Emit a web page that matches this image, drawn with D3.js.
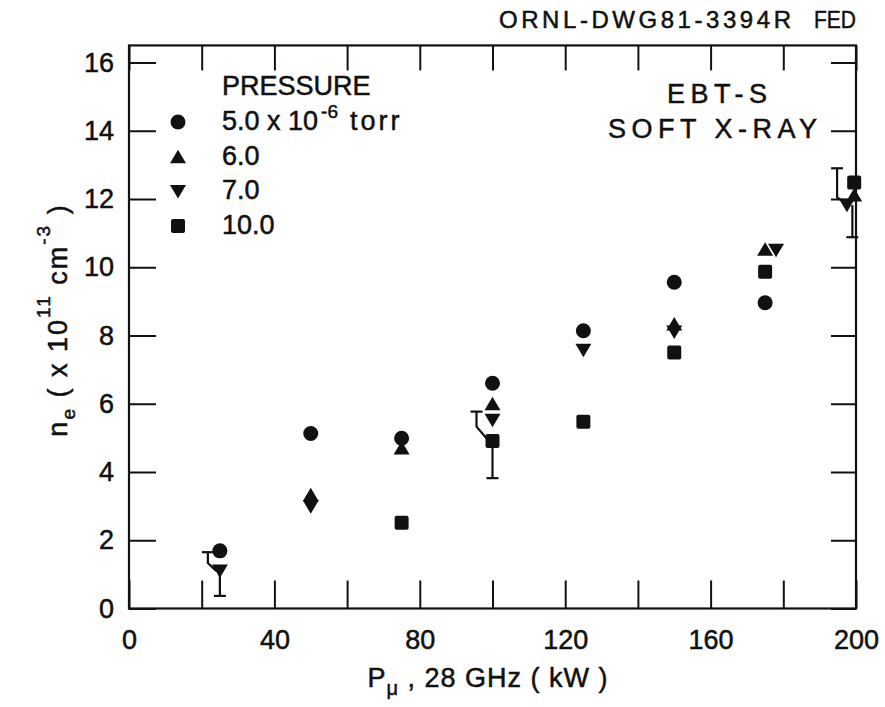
<!DOCTYPE html>
<html>
<head>
<meta charset="utf-8">
<script src="https://cdn.jsdelivr.net/npm/d3@7"></script>
<style>
  body { margin: 0; background: #fff; }
  text { font-family: "Liberation Sans", Arial, sans-serif; fill: #111; stroke: #111; stroke-width: 0.5px; }
</style>
</head>
<body>
<div id="chart"></div>
<script>
let w = 885;
let h = 707;

// series (P in kW, n_e in 1e11 cm^-3)
const pCircle = [25, 50, 75, 100, 125, 150, 175];
const nCircle = [1.69, 5.13, 4.99, 6.6, 8.14, 9.56, 8.96];
const pUp = [50, 75, 100, 150, 175, 199.5];
const nUp = [3.33, 4.7, 6.0, 8.34, 10.53, 12.12];
const pDown = [25, 50, 100, 125, 150, 178, 197.5];
const nDown = [1.1, 2.98, 5.52, 7.57, 8.1, 10.5, 11.82];
const pSquare = [75, 100, 125, 150, 175, 199.5];
const nSquare = [2.51, 4.91, 5.47, 7.5, 9.87, 12.48];

// error bars: lower bar at errP, upper bar shifted to errHiP, joined at errBend
const errP = [25, 100, 199];
const errY = [1.1, 4.91, 11.82];
const errLo = [0.37, 3.82, 10.88];
const errHi = [1.65, 5.77, 12.9];
const errHiP = [21.7, 95.6, 194.8];
const errBend = [1.33, 5.33, 12.05];

const legendLabels = ["5.0 x 10", "6.0", "7.0", "10.0"];
const xTicks = [0, 20, 40, 60, 80, 100, 120, 140, 160, 180, 200];
const xTickLabels = ["0", "", "40", "", "80", "", "120", "", "160", "", "200"];
const yTicks = [0, 2, 4, 6, 8, 10, 12, 14, 16];

let svg = d3.select("#chart").append("svg")
    .attr("width", w)
    .attr("height", h)
    .style("background-color", "white");

let x = d3.scaleLinear().domain([0, 200]).range([129, 856]);
let y = d3.scaleLinear().domain([0, 16.5]).range([608.5, 608.5 - 16.5 * 34.125]);

// frame
svg.append("rect")
    .attr("x", x(0)).attr("y", y(16.5))
    .attr("width", x(200) - x(0)).attr("height", y(0) - y(16.5))
    .attr("fill", "none").attr("stroke", "#111").attr("stroke-width", 2.2);

// axes, ticks pointing inward
let fontSize = 27;
let gx = svg.append("g").attr("transform", "translate(0," + y(0) + ")")
    .call(d3.axisBottom(x).tickValues(xTicks).tickSizeInner(-28).tickSizeOuter(0)
        .tickPadding(21).tickFormat((d, i) => xTickLabels[i]));
let gy = svg.append("g").attr("transform", "translate(" + x(0) + ",0)")
    .call(d3.axisLeft(y).tickValues(yTicks).tickSizeInner(-27).tickSizeOuter(0)
        .tickPadding(15).tickFormat(d3.format("d")));
let gt = svg.append("g").attr("transform", "translate(0," + y(16.5) + ")")
    .call(d3.axisTop(x).tickValues(xTicks).tickSizeInner(-25).tickSizeOuter(0).tickFormat(""));
let gr = svg.append("g").attr("transform", "translate(" + x(200) + ",0)")
    .call(d3.axisRight(y).tickValues(yTicks).tickSizeInner(-25).tickSizeOuter(0).tickFormat(""));

[gx, gy, gt, gr].forEach(function(g){
    g.select(".domain").remove();
    g.selectAll(".tick line").attr("stroke", "#111").attr("stroke-width", 2);
    g.selectAll(".tick text")
        .attr("font-family", "Liberation Sans, Arial, sans-serif")
        .attr("font-size", fontSize)
        .attr("fill", "#111");
});

// error bars
let eb = svg.append("g").attr("stroke", "#111").attr("stroke-width", 2.2).attr("fill", "none");
for (let i = 0; i < errP.length; i++) {
    // lower part
    eb.append("line")
        .attr("x1", x(errP[i])).attr("x2", x(errP[i]))
        .attr("y1", y(errY[i])).attr("y2", y(errLo[i]));
    eb.append("line")
        .attr("x1", x(errP[i]) - 6).attr("x2", x(errP[i]) + 6)
        .attr("y1", y(errLo[i])).attr("y2", y(errLo[i]));
    // upper part, offset to the left
    eb.append("path")
        .attr("d", "M" + x(errP[i] - 1) + "," + y(errY[i]) +
            "L" + x(errHiP[i]) + "," + y(errBend[i]) +
            "L" + x(errHiP[i]) + "," + y(errHi[i]));
    eb.append("line")
        .attr("x1", x(errHiP[i]) - 6).attr("x2", x(errHiP[i]) + 6)
        .attr("y1", y(errHi[i])).attr("y2", y(errHi[i]));
}

// marker shapes
function marker(sel, kind) {
    if (kind == "circle") {
        sel.append("circle").attr("r", 7.5);
    } else if (kind == "up") {
        sel.append("path").attr("d", "M-8,6.5L8,6.5L0,-7Z");
    } else if (kind == "down") {
        sel.append("path").attr("d", "M-8,-6.5L8,-6.5L0,7Z");
    } else {
        sel.append("rect").attr("x", -7).attr("y", -7).attr("width", 14).attr("height", 14).attr("rx", 2);
    }
}

let series = [
    {kind: "circle", p: pCircle, n: nCircle},
    {kind: "up", p: pUp, n: nUp},
    {kind: "down", p: pDown, n: nDown},
    {kind: "square", p: pSquare, n: nSquare}
];

series.forEach(function(s){
    svg.append("g").attr("fill", "#111")
        .selectAll("g").data(s.p).join("g")
        .attr("transform", (d, i) => "translate(" + x(d) + "," + y(s.n[i]) + ")")
        .each(function(){ marker(d3.select(this), s.kind); });
});

// legend
let legend = svg.append("g").attr("font-size", fontSize);
legend.append("text").attr("x", 222).attr("y", 95).text("PRESSURE");
let rows = legend.selectAll(".row").data(series).join("g")
    .attr("class", "row")
    .attr("transform", (d, i) => "translate(178," + (130 + i * 34.7) + ")");
rows.each(function(d){
    let g = d3.select(this).append("g").attr("fill", "#111").attr("transform", "translate(0,-8)");
    marker(g, d.kind);
});
rows.append("text").attr("x", 44).attr("y", 0)
    .each(function(d, i){
        let t = d3.select(this);
        t.append("tspan").text(legendLabels[i]);
        if (i == 0) {
            t.append("tspan").attr("dx", 3).attr("dy", -12).attr("font-size", 19).text("-6");
            t.append("tspan").attr("dx", 12).attr("dy", 12).attr("letter-spacing", 3).text("torr");
        }
    });

// annotation
svg.append("text").attr("x", 667).attr("y", 103).attr("font-size", fontSize)
    .attr("letter-spacing", 5.5).text("EBT-S");
svg.append("text").attr("x", 608).attr("y", 138).attr("font-size", fontSize)
    .attr("letter-spacing", 5.5).text("SOFT X-RAY");

// drawing number
svg.append("text").attr("x", 499).attr("y", 28).attr("font-size", 24)
    .attr("textLength", 292).attr("lengthAdjust", "spacing").text("ORNL-DWG81-3394R");
svg.append("text").attr("x", 814).attr("y", 28).attr("font-size", 24)
    .attr("textLength", 42).attr("lengthAdjust", "spacingAndGlyphs").text("FED");

// x label
let xl = svg.append("text").attr("x", 488).attr("y", 687).attr("font-size", fontSize)
    .attr("text-anchor", "middle").attr("letter-spacing", 1);
xl.append("tspan").text("P");
xl.append("tspan").attr("dy", 8).attr("font-size", 20).text("\u03bc");
xl.append("tspan").attr("dy", -8).text(" , 28 GHz ( kW )");

// y label
let yl = svg.append("text")
    .attr("transform", "translate(67,320) rotate(-90)")
    .attr("font-size", fontSize).attr("text-anchor", "middle").attr("letter-spacing", 2);
yl.append("tspan").text("n");
yl.append("tspan").attr("dy", 8).attr("font-size", 19).text("e");
yl.append("tspan").attr("dy", -8).text(" ( x 10");
yl.append("tspan").attr("dy", -17).attr("font-size", 19).text("11");
yl.append("tspan").attr("dy", 17).text(" cm");
yl.append("tspan").attr("dy", -17).attr("font-size", 19).text("-3");
yl.append("tspan").attr("dy", 17).text(" )");
</script>
</body>
</html>
